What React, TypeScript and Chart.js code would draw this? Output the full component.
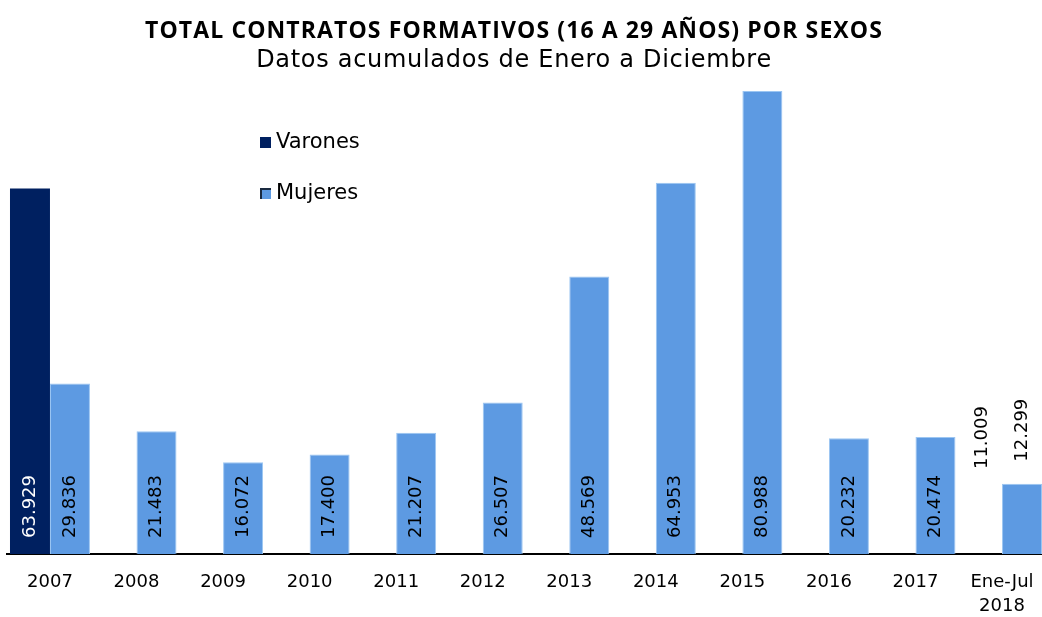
import React, { useEffect, useRef } from 'react';
import { Chart, registerables } from 'chart.js';

Chart.register(...registerables);

const categories: (string | string[])[] = [
  '2007', '2008', '2009', '2010', '2011', '2012', '2013', '2014', '2015', '2016', '2017', ['Ene-Jul', '2018'],
];
const varones: (number | null)[] = [63929, null, null, null, null, null, null, null, null, null, null, 11009];
const mujeres: number[] = [29836, 21483, 16072, 17400, 21207, 26507, 48569, 64953, 80988, 20232, 20474, 12299];
const seriesNames = ['Varones', 'Mujeres'];
const titleText = 'TOTAL CONTRATOS FORMATIVOS (16 A 29 AÑOS) POR SEXOS';
const subtitleText = 'Datos acumulados de Enero a Diciembre';
const yMax = 81000;

const NAVY = '#002060';
const LIGHT = '#5D9AE2';
const FONT = '"DejaVu Sans", sans-serif';

const fmt = (v: number) => String(Math.round(v)).replace(/\B(?=(\d{3})+(?!\d))/g, '.');

const decorPlugin = {
  id: 'decor',
  afterDatasetsDraw(chart: any) {
    const ctx = chart.ctx as CanvasRenderingContext2D;
    const lastIdx = categories.length - 1;
    chart.data.datasets.forEach((ds: any, di: number) => {
      const meta = chart.getDatasetMeta(di);
      meta.data.forEach((bar: any, i: number) => {
        const v = ds.data[i];
        if (v == null) return;
        const outside = i === lastIdx;
        ctx.save();
        ctx.font = `18px ${FONT}`;
        ctx.fillStyle = outside ? '#000' : di === 0 ? '#fff' : '#000';
        ctx.textBaseline = 'middle';
        ctx.textAlign = 'left';
        const startY = outside ? bar.y - 22 : bar.base - 16;
        ctx.translate(bar.x, startY);
        ctx.rotate(-Math.PI / 2);
        ctx.fillText(fmt(v), 0, 0);
        ctx.restore();
      });
    });
  },
  afterDraw(chart: any) {
    const ctx = chart.ctx as CanvasRenderingContext2D;
    ctx.save();
    // title
    ctx.fillStyle = '#000';
    ctx.textAlign = 'center';
    ctx.textBaseline = 'middle';
    (ctx as any).letterSpacing = '1.1px';
    ctx.font = `bold 23px "Open Sans", sans-serif`;
    ctx.fillText(titleText, 514, 31);
    (ctx as any).letterSpacing = '0.7px';
    ctx.font = `24px ${FONT}`;
    ctx.fillText(subtitleText, 514, 61);
    (ctx as any).letterSpacing = '0px';
    // legend
    ctx.textAlign = 'left';
    ctx.font = `21px ${FONT}`;
    const colors = [NAVY, LIGHT];
    seriesNames.forEach((name, k) => {
      const y = 142 + k * 51;
      if (k === 1) {
        ctx.fillStyle = '#1a2a40';
        ctx.fillRect(260, y - 5, 11, 11);
        ctx.fillStyle = colors[k];
        ctx.fillRect(262, y - 3, 9, 9);
      } else {
        ctx.fillStyle = colors[k];
        ctx.fillRect(260, y - 5, 11, 11);
      }
      ctx.fillStyle = '#000';
      ctx.fillText(name, 276, y + 1);
    });
    ctx.restore();
  },
};

export default function App() {
  const ref = useRef<HTMLCanvasElement | null>(null);
  useEffect(() => {
    if (!ref.current) return;
    const chart = new Chart(ref.current, {
      type: 'bar',
      data: {
        labels: categories as any,
        datasets: [
          {
            label: seriesNames[0],
            data: varones as any,
            backgroundColor: varones.map((_, i) => (i === categories.length - 1 ? 'rgba(0,0,0,0)' : NAVY)),
            borderWidth: 0,
            categoryPercentage: 0.924,
            barPercentage: 1,
          },
          {
            label: seriesNames[1],
            data: mujeres,
            backgroundColor: LIGHT,
            borderColor: '#9CC6F2',
            borderWidth: { left: 1, right: 1, top: 1, bottom: 0 } as any,
            categoryPercentage: 0.924,
            barPercentage: 1,
          },
        ],
      },
      options: {
        responsive: false,
        animation: false,
        devicePixelRatio: 1,
        layout: { padding: { left: 6.7, right: 14.7, top: 91, bottom: 0 } },
        plugins: {
          legend: { display: false },
          title: { display: false },
          tooltip: { enabled: false },
        },
        scales: {
          x: {
            grid: { display: false, drawTicks: false },
            border: { display: true, color: '#000', width: 2 },
            ticks: {
              color: '#000',
              font: { family: FONT, size: 18, lineHeight: 1.35 },
              padding: 16,
              maxRotation: 0,
              autoSkip: false,
            },
            afterFit: (s: any) => {
              s.height = 63;
            },
          },
          y: { display: false, min: 0, max: yMax },
        },
      },
      plugins: [decorPlugin],
    });
    return () => chart.destroy();
  }, []);
  return (
    <div style={{ position: 'fixed', left: 0, top: 0, width: 1042, height: 617, overflow: 'hidden', background: '#fff' }}>
      <canvas ref={ref} width={1060} height={617} style={{ display: 'block' }} />
    </div>
  );
}
